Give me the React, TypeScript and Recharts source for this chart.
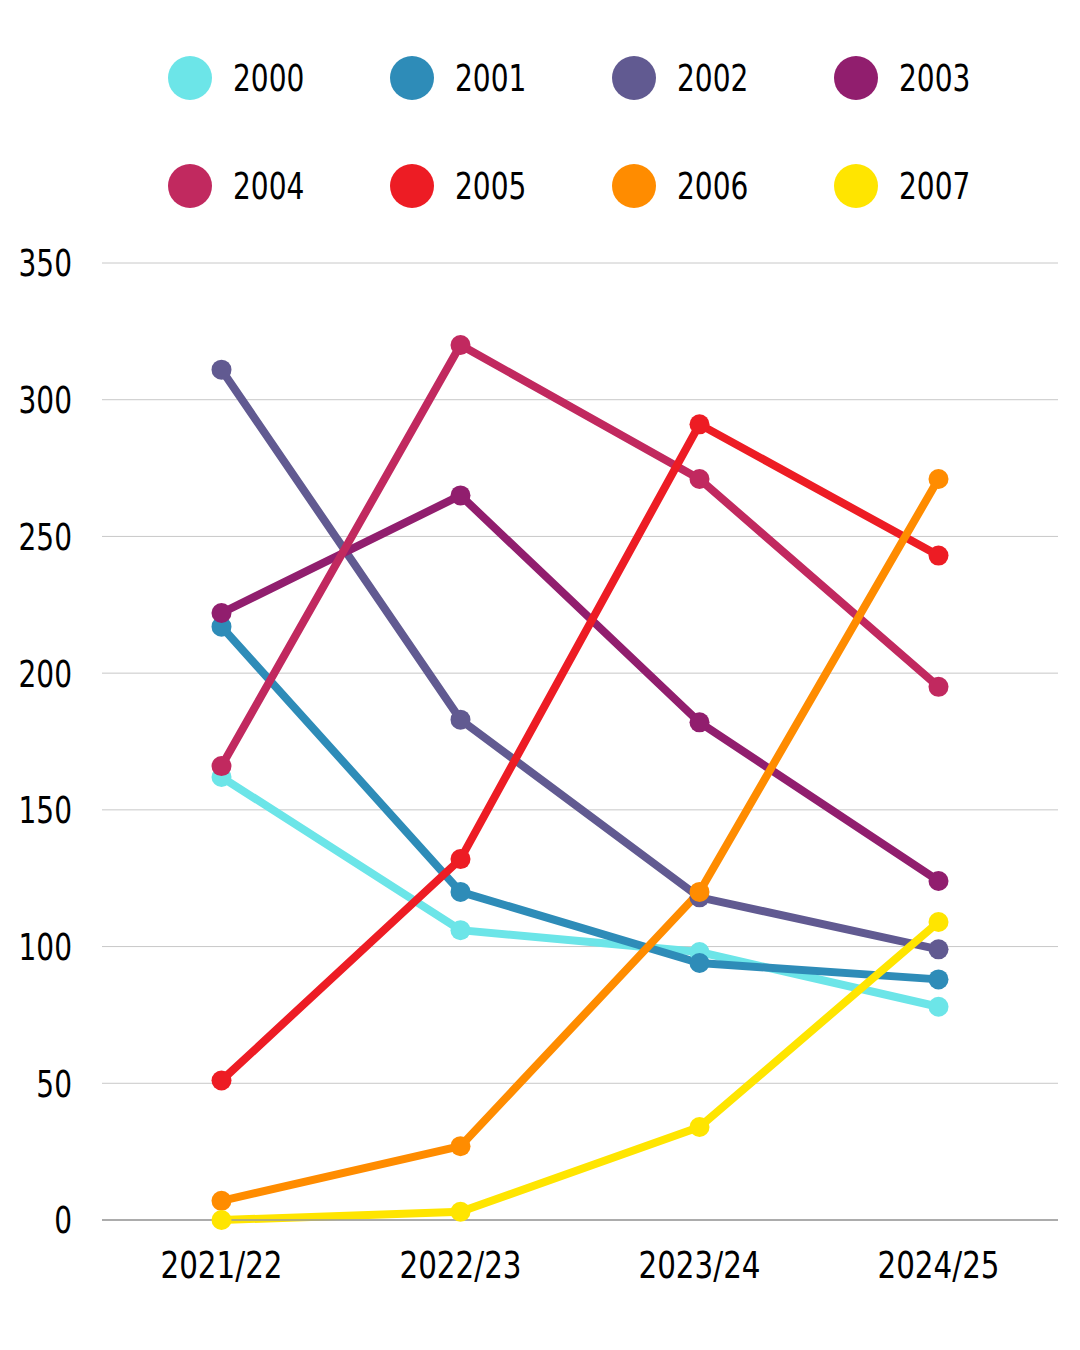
import React from 'react'
import {
  LineChart,
  Line,
  XAxis,
  YAxis,
  CartesianGrid,
  Legend,
} from "recharts";

const seasons = ["2021/22", "2022/23", "2023/24", "2024/25"];
const years = ["2000", "2001", "2002", "2003", "2004", "2005", "2006", "2007"];
const colors = ["#6ce5e8", "#2e8cb8", "#615a91", "#911e6e", "#c1295f", "#ed1c24", "#ff8c00", "#ffe500"];

const v2000 = [162, 106, 98, 78];
const v2001 = [217, 120, 94, 88];
const v2002 = [311, 183, 118, 99];
const v2003 = [222, 265, 182, 124];
const v2004 = [166, 320, 271, 195];
const v2005 = [51, 132, 291, 243];
const v2006 = [7, 27, 120, 271];
const v2007 = [0, 3, 34, 109];

const yTicks = [0, 50, 100, 150, 200, 250, 300, 350];

const seriesValues = [v2000, v2001, v2002, v2003, v2004, v2005, v2006, v2007];

const chartData = seasons.map((season, i) => {
  const row: Record<string, string | number> = { season };
  years.forEach((y, k) => {
    row[y] = seriesValues[k][i];
  });
  return row;
});

const FONT = '"DejaVu Sans Condensed", "DejaVu Sans", sans-serif';
const FS = 38;
const SQUEEZE = 0.82;

// narrow the condensed font a bit more to match the reference lettering
const XTick = ({ x, y, payload }: any) => (
  <g transform={`translate(${x},${y}) scale(0.86,1)`}>
    <text x={0} y={0} dy="0.71em" textAnchor="middle" fill="#000" fontSize={FS} fontFamily={FONT}>
      {payload.value}
    </text>
  </g>
);

const YTick = ({ x, y, payload }: any) => (
  <g transform={`translate(${x},${y}) scale(${SQUEEZE},1)`}>
    <text x={0} y={0} dy="0.355em" textAnchor="end" fill="#000" fontSize={FS} fontFamily={FONT}>
      {payload.value}
    </text>
  </g>
);

const LegendRows = ({ payload }: any) => {
  const items = (payload || []) as any[];
  return (
    <div style={{ position: 'relative', width: 1080, height: 263 }}>
      {items.map((item, i) => {
        const col = i % 4;
        const row = Math.floor(i / 4);
        const cx = 190 + col * 222;
        const cy = 77 + row * 108;
        return (
          <div key={item.value} style={{ position: 'absolute', left: cx - 22, top: cy - 22, display: 'flex', alignItems: 'center' }}>
            <span style={{ width: 44, height: 44, borderRadius: 22, background: item.color, display: 'inline-block' }} />
            <span style={{
              marginLeft: 21, fontFamily: FONT, fontSize: FS, color: '#000', lineHeight: '46px',
              display: 'inline-block', transform: `scaleX(${SQUEEZE})`, transformOrigin: 'left center',
            }}>
              {item.value}
            </span>
          </div>
        );
      })}
    </div>
  );
};

export default function App() {
  return (
    <div style={{ position: 'absolute', left: 0, top: 0, width: 1080, height: 1350, background: '#fff' }}>
      <LineChart
        width={1080}
        height={1350}
        data={chartData}
        margin={{ top: 0, right: 22, bottom: 0, left: 0 }}
      >
        <Legend
          verticalAlign="top"
          align="left"
          content={<LegendRows />}
          wrapperStyle={{ top: 0, left: 0, width: 1080, height: 263 }}
        />
        <CartesianGrid vertical={false} stroke="#c8c8c8" strokeWidth={1} />
        <XAxis
          dataKey="season"
          height={130}
          padding={{ left: 119.5, right: 119.5 }}
          tickLine={false}
          axisLine={{ stroke: '#9a9a9a', strokeWidth: 1.5 }}
          tickSize={0}
          tickMargin={31}
          tick={<XTick />}
        />
        <YAxis
          width={102}
          domain={[0, 350]}
          ticks={yTicks}
          axisLine={false}
          tickLine={false}
          tickSize={0}
          tickMargin={30}
          tick={<YTick />}
        />
        {years.map((y, k) => (
          <Line
            key={y}
            dataKey={y}
            name={y}
            type="linear"
            stroke={colors[k]}
            strokeWidth={8}
            dot={{ r: 10, fill: colors[k], stroke: 'none' }}
            activeDot={false}
            isAnimationActive={false}
          />
        ))}
      </LineChart>
    </div>
  )
}
